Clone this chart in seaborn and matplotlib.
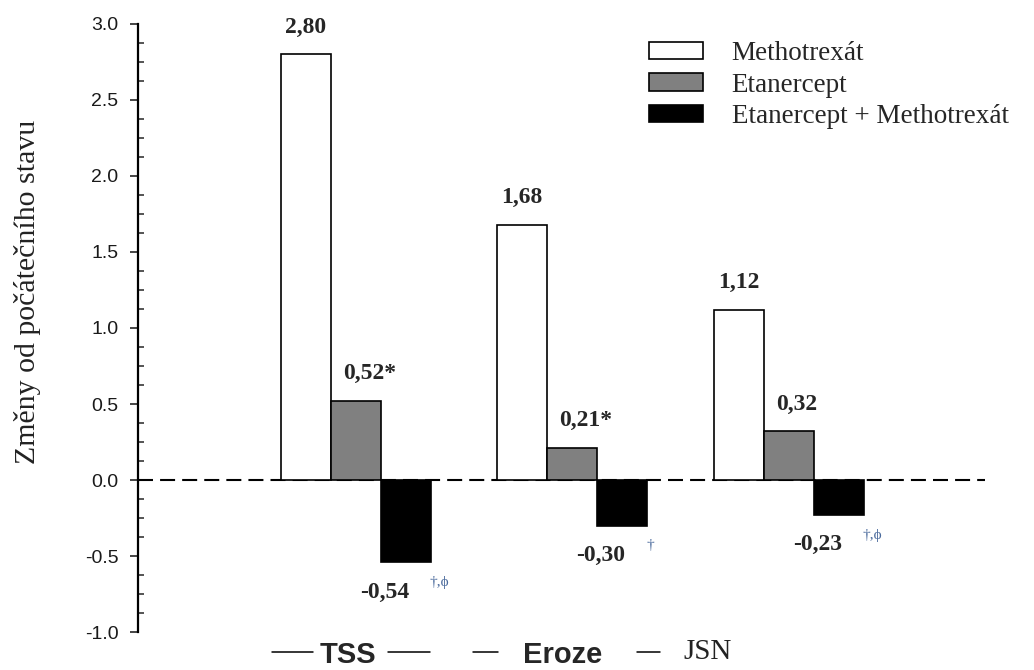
# Změny od počátečního stavu - sloupcový graf (TSS, eroze, JSN)
import pandas as pd
import matplotlib.pyplot as plt
import seaborn as sns
from matplotlib.lines import Line2D
from matplotlib.ticker import MultipleLocator, FormatStrFormatter
from matplotlib.transforms import blended_transform_factory

# data
kategorie = ["TSS", "Eroze", "JSN"]
lecby = ["Methotrexát", "Etanercept", "Etanercept + Methotrexát"]
methotrexat = [2.80, 1.68, 1.12]
etanercept = [0.52, 0.21, 0.32]
kombinace = [-0.54, -0.30, -0.23]
hvezdicky_etanercept = ["*", "*", ""]
poznamky_kombinace = ["†,ϕ", "†", "†,ϕ"]

barvy = ["white", "#808080", "black"]

# tabulka pro seaborn
df = pd.DataFrame({
    "ukazatel": kategorie * 3,
    "lecba": [lecby[0]] * 3 + [lecby[1]] * 3 + [lecby[2]] * 3,
    "zmena": methotrexat + etanercept + kombinace,
})
popisky = {
    lecby[0]: ["", "", ""],
    lecby[1]: hvezdicky_etanercept,
    lecby[2]: ["", "", ""],
}

sns.set_style("ticks")
plt.rcParams["font.family"] = ["Liberation Serif", "DejaVu Serif"]
plt.rcParams["axes.unicode_minus"] = False

fig = plt.figure(figsize=(10.34, 6.70), dpi=100)
ax = fig.add_axes([0.1335, 0.0567, 0.819, 0.9075])

sns.barplot(data=df, x="ukazatel", y="zmena", hue="lecba", order=kategorie,
            hue_order=lecby, palette=barvy, saturation=1, width=0.693, gap=0,
            edgecolor="black", linewidth=1.2, ax=ax, zorder=2)

ax.axhline(0, color="black", lw=1.5, linestyle=(0, (7.2, 3.4)), zorder=1)

ax.set_xlim(-1.005, 2.907)
ax.set_ylim(-1.0, 3.0)

# osa y
ax.yaxis.set_major_locator(MultipleLocator(0.5))
ax.yaxis.set_minor_locator(MultipleLocator(0.125))
ax.yaxis.set_major_formatter(FormatStrFormatter("%.1f"))
ax.tick_params(axis="y", which="major", direction="out", length=6, width=1.2,
               labelsize=14, pad=8, labelcolor="#1a1a1a")
ax.tick_params(axis="y", which="minor", direction="in", length=4.5, width=1.1)
for lab in ax.get_yticklabels():
    lab.set_family(["Liberation Sans", "DejaVu Sans"])
ax.set_xticks([])
ax.set_xlabel("")
for s in ["top", "right", "bottom"]:
    ax.spines[s].set_visible(False)
ax.spines["left"].set_linewidth(1.6)
ax.spines["left"].set_color("black")

ax.set_ylabel("Změny od počátečního stavu", fontsize=21.5, color="#222222")
ax.yaxis.set_label_coords(-0.115, 0.56)

# hodnoty nad / pod sloupci
for i, kont in enumerate(ax.containers):
    lecba = lecby[i]
    for j, bar in enumerate(kont):
        h = bar.get_height()
        xc = bar.get_x() + bar.get_width() / 2
        txt = f"{h:.2f}".replace(".", ",") + popisky[lecba][j]
        if i == 0:
            lab = ax.annotate(txt, (xc, h), xytext=(0, 12), textcoords="offset points",
                              ha="center", va="bottom", fontsize=17, fontweight="bold",
                              annotation_clip=False)
        elif i == 1:
            lab = ax.annotate(txt, (xc, h), xytext=(-9, 12), textcoords="offset points",
                              ha="left", va="bottom", fontsize=17, fontweight="bold",
                              annotation_clip=False)
        else:
            lab = ax.annotate(txt, (xc, h), xytext=(-33, -14), textcoords="offset points",
                              ha="left", va="top", fontsize=17, fontweight="bold",
                              annotation_clip=False)
            ax.annotate(poznamky_kombinace[j], xy=(1, 0.5), xycoords=lab,
                        xytext=(15, 7), textcoords="offset points", ha="left",
                        va="center", fontsize=11, color="#4a6a9c")

# legenda
handles, labels = ax.get_legend_handles_labels()
ax.legend(handles, labels, loc="upper left", bbox_to_anchor=(649 / 1034, 1 - 41 / 670),
          bbox_transform=fig.transFigure, frameon=False, fontsize=19.5,
          handlelength=2.0, handleheight=0.63, handletextpad=1.05,
          labelspacing=0.24, borderpad=0, borderaxespad=0)

# popisky skupin dole
tr = blended_transform_factory(ax.transData, fig.transFigure)
ax.text(-0.035, 0.011, "TSS", transform=tr, ha="center", va="baseline",
        fontsize=21, fontweight="bold", family=["Liberation Sans", "DejaVu Sans"])
ax.text(0.958, 0.011, "Eroze", transform=tr, ha="center", va="baseline",
        fontsize=21, fontweight="bold", family=["Liberation Sans", "DejaVu Sans"])
ax.text(1.628, 0.016, "JSN", transform=tr, ha="center", va="baseline",
        fontsize=21, color="#222222")
pomlcky = [(-0.386, -0.196), (0.150, 0.344), (0.543, 0.658), (1.300, 1.406)]
for x0, x1 in pomlcky:
    fig.add_artist(Line2D([x0, x1], [0.027, 0.027], transform=tr,
                          color="black", lw=1.1))

fig.savefig("out.png", dpi=100)
